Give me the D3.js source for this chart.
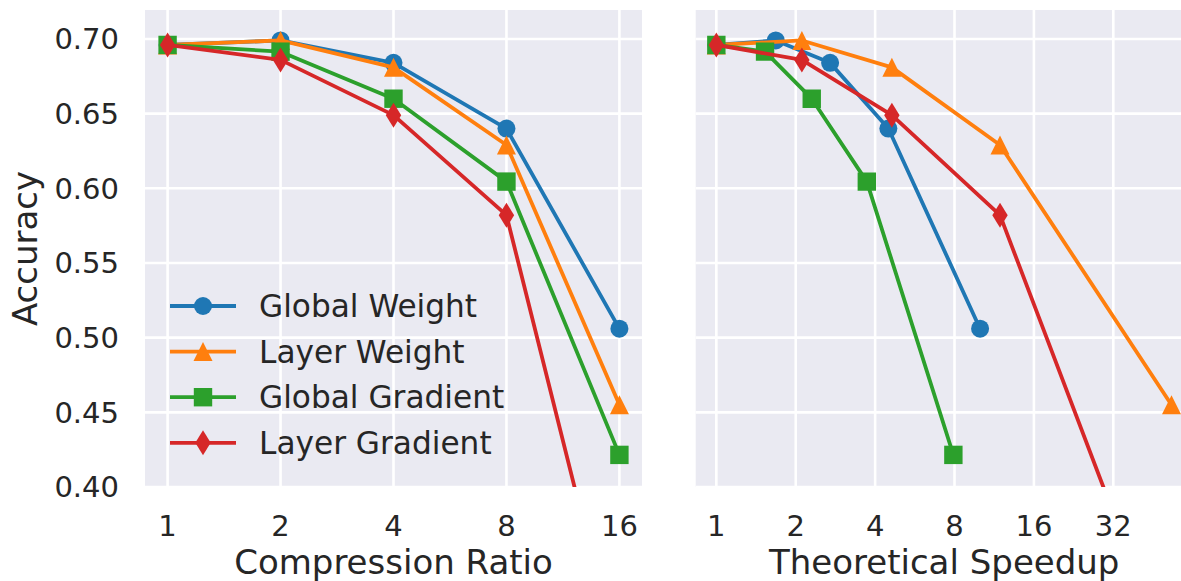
<!DOCTYPE html>
<html>
<head>
<meta charset="utf-8">
<script src="https://cdn.jsdelivr.net/npm/d3@7"></script>
<style>
  body { margin: 0; background: #fff; }
  text { font-family: "DejaVu Sans", sans-serif; fill: #262626; }
</style>
</head>
<body>
<div id="chart"></div>
<script>
// data
const seriesNames = ['Global Weight', 'Layer Weight', 'Global Gradient', 'Layer Gradient'];
const compressionRatio = [1, 2, 4, 8, 16];
const globalWeightAcc = [0.696, 0.699, 0.684, 0.640, 0.506];
const layerWeightAcc = [0.696, 0.699, 0.681, 0.629, 0.455];
const globalGradientAcc = [0.696, 0.6915, 0.660, 0.6045, 0.4215];
const layerGradientAcc = [0.696, 0.686, 0.649, 0.582, 0.280];
const globalWeightSpeedup = [1, 1.68, 2.70, 4.49, 10.0];
const layerWeightSpeedup = [1, 2.11, 4.63, 11.9, 53.2];
const globalGradientSpeedup = [1, 1.53, 2.30, 3.72, 7.92];
const layerGradientSpeedup = [1, 2.11, 4.63, 11.9, 53.2];
const yTicks = [0.40, 0.45, 0.50, 0.55, 0.60, 0.65, 0.70];
const leftXTicks = [1, 2, 4, 8, 16];
const rightXTicks = [1, 2, 4, 8, 16, 32];

const colors = ['#1f77b4', '#ff7f0e', '#2ca02c', '#d62728'];
const markers = ['circle', 'triangle', 'square', 'diamond'];
const accs = [globalWeightAcc, layerWeightAcc, globalGradientAcc, layerGradientAcc];
const speedups = [globalWeightSpeedup, layerWeightSpeedup, globalGradientSpeedup, layerGradientSpeedup];

const [svgWidth, svgHeight] = [1181, 581];
const plotTop = 10, plotBottom = 487, panelW = 497;

function translate(x, y) {
    return 'translate(' + x + ',' + y + ')';
}

const svg = d3.select('#chart').append('svg')
    .attr('width', svgWidth)
    .attr('height', svgHeight);

const y = d3.scaleLinear().domain([0.40, 0.7194]).range([plotBottom, plotTop]);

function markerPath(kind) {
    if (kind === 'circle') return d3.symbol(d3.symbolCircle, Math.PI * 9 * 9)();
    if (kind === 'square') return 'M-9.2,-9.2H9.2V9.2H-9.2Z';
    if (kind === 'triangle') return 'M0,-9.5L9.5,9.5L-9.5,9.5Z';
    return 'M0,-12.5L7.7,0L0,12.5L-7.7,0Z';
}

function panel(id, x0, xDomain, xTicks, xs, xLabel) {
    const x = d3.scaleLog().base(2).domain(xDomain).range([0, panelW]);
    const g = svg.append('g').attr('transform', translate(x0, 0));
    const h = plotBottom - plotTop;

    svg.append('clipPath').attr('id', id)
        .append('rect').attr('x', 0).attr('y', plotTop).attr('width', panelW).attr('height', h);

    g.append('rect').attr('x', 0).attr('y', plotTop).attr('width', panelW).attr('height', h)
        .attr('fill', '#eaeaf2');

    // grid
    g.append('g').selectAll('line').data(yTicks).join('line')
        .attr('x1', 0).attr('x2', panelW)
        .attr('y1', d => y(d)).attr('y2', d => y(d))
        .attr('stroke', '#fff').attr('stroke-width', 2.6);
    g.append('g').selectAll('line').data(xTicks).join('line')
        .attr('x1', d => x(d)).attr('x2', d => x(d))
        .attr('y1', plotTop).attr('y2', plotBottom)
        .attr('stroke', '#fff').attr('stroke-width', 2.6);

    // tick labels
    g.append('g').selectAll('text').data(xTicks).join('text')
        .attr('x', d => x(d)).attr('y', 536)
        .attr('text-anchor', 'middle')
        .style('font-size', '29px')
        .text(d => d);

    g.append('text')
        .attr('x', panelW / 2).attr('y', 574)
        .attr('text-anchor', 'middle')
        .style('font-size', '34px')
        .text(xLabel);

    const plot = g.append('g').attr('clip-path', 'url(#' + id + ')');
    const line = d3.line().x(d => x(d[0])).y(d => y(d[1]));

    accs.forEach((acc, i) => {
        const pts = xs[i].map((v, j) => [v, acc[j]]);
        const s = plot.append('g');
        s.append('path').datum(pts).attr('d', line)
            .attr('fill', 'none').attr('stroke', colors[i]).attr('stroke-width', 3.8)
            .attr('stroke-linejoin', 'round').attr('stroke-linecap', 'square');
        s.selectAll('path.m').data(pts).join('path').attr('class', 'm')
            .attr('transform', d => translate(x(d[0]), y(d[1])))
            .attr('d', markerPath(markers[i]))
            .attr('fill', colors[i]);
    });
    return g;
}

panel('clipL', 145, [Math.pow(2, -0.2), Math.pow(2, 4.2)], leftXTicks,
    [compressionRatio, compressionRatio, compressionRatio, compressionRatio], 'Compression Ratio');
panel('clipR', 695.7, [Math.pow(2, -0.26), Math.pow(2, 6.0)], rightXTicks, speedups, 'Theoretical Speedup');

// y tick labels
svg.append('g').selectAll('text').data(yTicks).join('text')
    .attr('x', 119).attr('y', d => y(d)).attr('dy', '0.36em')
    .attr('text-anchor', 'end')
    .style('font-size', '29px')
    .text(d => d.toFixed(2));

svg.append('text')
    .attr('transform', translate(37, (plotTop + plotBottom) / 2) + ' rotate(-90)')
    .attr('text-anchor', 'middle')
    .style('font-size', '34px')
    .text('Accuracy');

// legend
const legend = svg.append('g');
seriesNames.forEach((name, i) => {
    const ly = 306 + i * 45.6;
    legend.append('line').attr('x1', 170).attr('x2', 236).attr('y1', ly).attr('y2', ly)
        .attr('stroke', colors[i]).attr('stroke-width', 3.8);
    legend.append('path').attr('transform', translate(203, ly)).attr('d', markerPath(markers[i]))
        .attr('fill', colors[i]);
    legend.append('text').attr('x', 259).attr('y', ly).attr('dy', '0.36em')
        .style('font-size', '31.2px')
        .text(name);
});
</script>
</body>
</html>
